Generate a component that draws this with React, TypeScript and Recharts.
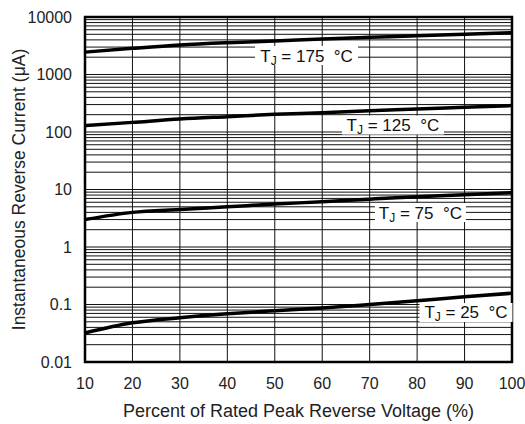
import React from "react";
import {
  LineChart,
  Line,
  XAxis,
  YAxis,
  CartesianGrid,
  ReferenceArea,
  ReferenceDot,
  Label,
} from "recharts";

const FONT = "'Liberation Sans', Arial, Helvetica, sans-serif";

// percent of rated peak reverse voltage
const voltagePct = [10, 20, 30, 40, 50, 60, 70, 80, 90, 100];

// reverse current in uA
const tj175 = [2450, 2850, 3260, 3570, 3830, 4140, 4430, 4730, 5000, 5340];
const tj125 = [129, 147, 168, 185, 203, 217, 235, 251, 269, 288];
const tj75 = [3.0, 4.0, 4.5, 5.0, 5.6, 6.1, 6.8, 7.5, 8.1, 8.8];
const tj25 = [0.032, 0.048, 0.059, 0.069, 0.078, 0.087, 0.1, 0.116, 0.137, 0.157];

const xTicks = [10, 20, 30, 40, 50, 60, 70, 80, 90, 100];
const decades = [0.01, 0.1, 1, 10, 100, 1000, 10000];
const decadeLabels = ["0.01", "0.1", "1", "10", "100", "1000", "10000"];
const mantissas = [1, 2, 3, 4, 5, 6, 7, 8, 9];

const curveLabels = [
  { temp: "175", x: 56.7, y: 2140, w: 103 },
  { temp: "125", x: 74.9, y: 132, w: 102 },
  { temp: "75", x: 80.7, y: 3.98, w: 91 },
  { temp: "25", x: 90.3, y: 0.0726, w: 93 },
];

// every 1..9 line within each decade, plus the top one
const yTicks: number[] = [];
decades.slice(0, -1).forEach((d) => {
  mantissas.forEach((m) => yTicks.push(+(d * m).toPrecision(3)));
});
yTicks.push(10000);

const data = voltagePct.map((v, i) => ({
  v,
  t175: tj175[i],
  t125: tj125[i],
  t75: tj75[i],
  t25: tj25[i],
}));

const fmtY = (val: number) => {
  const i = decades.findIndex((d) => Math.abs(d - val) / d < 1e-6);
  return i >= 0 ? decadeLabels[i] : "";
};

function TjBox(props: any) {
  const { cx, cy, w, temp } = props;
  const h = 19;
  return (
    <g>
      <rect x={cx - w / 2} y={cy - h / 2} width={w} height={h} fill="#fff" />
      <text
        x={cx}
        y={cy + 6}
        textAnchor="middle"
        fontFamily={FONT}
        fontSize={17}
        fill="#111"
      >
        T
        <tspan fontSize={12} dy={3}>J</tspan>
        <tspan dy={-3}>{` = ${temp}\u00a0 °C`}</tspan>
      </text>
    </g>
  );
}

export default function App() {
  const curves = [
    { key: "t175" },
    { key: "t125" },
    { key: "t75" },
    { key: "t25" },
  ];
  return (
    <div style={{ position: "absolute", left: 0, top: 0, width: 525, height: 424, background: "#fff" }}>
      <LineChart
        width={525}
        height={424}
        data={data}
        margin={{ top: 17, right: 13, bottom: 20, left: 0 }}
      >
        <CartesianGrid stroke="#111" strokeWidth={1} />
        <XAxis
          dataKey="v"
          type="number"
          domain={[10, 100]}
          ticks={xTicks}
          tickLine={false}
          tickSize={0}
          tickMargin={16}
          axisLine={false}
          height={42}
          tick={{ fill: "#222", fontSize: 16, fontFamily: FONT }}
        >
          <Label
            value="Percent of Rated Peak Reverse Voltage (%)"
            position="bottom"
            offset={0}
            style={{ fill: "#222", fontSize: 18, fontFamily: FONT }}
          />
        </XAxis>
        <YAxis
          scale="log"
          type="number"
          domain={[0.01, 10000]}
          ticks={yTicks}
          interval={0}
          tickFormatter={fmtY}
          tickLine={false}
          tickSize={0}
          tickMargin={13}
          axisLine={false}
          width={85}
          allowDataOverflow
          tick={{ fill: "#222", fontSize: 16, fontFamily: FONT }}
        >
          <Label
            value="Instantaneous Reverse Current (μA)"
            angle={-90}
            position="insideLeft"
            offset={19}
            style={{ fill: "#222", fontSize: 17.5, fontFamily: FONT, textAnchor: "middle" }}
          />
        </YAxis>
        <ReferenceArea
          x1={10}
          x2={100}
          y1={0.01}
          y2={10000}
          fill="none"
          fillOpacity={0}
          stroke="#000"
          strokeWidth={2.5}
        />
        {curves.map((c) => (
          <Line
            key={c.key}
            dataKey={c.key}
            type="monotone"
            stroke="#000"
            strokeWidth={3.5}
            dot={false}
            isAnimationActive={false}
          />
        ))}
        {curveLabels.map((l) => (
          <ReferenceDot
            key={l.temp}
            x={l.x}
            y={l.y}
            r={0}
            shape={(p: any) => <TjBox {...p} w={l.w} temp={l.temp} />}
          />
        ))}
      </LineChart>
    </div>
  );
}
